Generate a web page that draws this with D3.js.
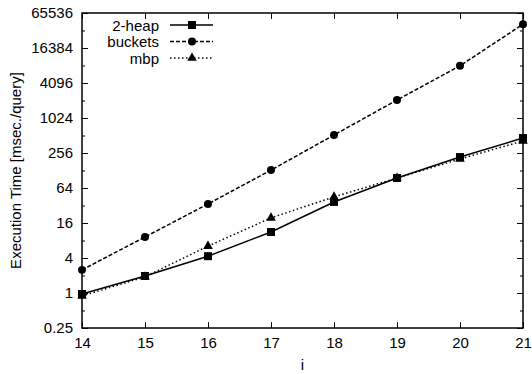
<!DOCTYPE html>
<html>
<head>
<meta charset="utf-8">
<script src="https://cdn.jsdelivr.net/npm/d3@7/dist/d3.min.js"></script>
<style>
  html, body { margin: 0; padding: 0; background: #fff; }
  svg { display: block; font-family: "Liberation Sans", Arial, sans-serif; }
</style>
</head>
<body>
<svg id="chart" width="532" height="374"></svg>
<script>
// Query execution time (msec/query) against problem size i
const sizes = [14, 15, 16, 17, 18, 19, 20, 21];
const twoHeap = [0.96, 1.96, 4.3, 11.2, 36.8, 95, 218, 463];
const buckets = [2.5, 9.2, 34, 130, 522, 2088, 8100, 42000];
const mbp = [0.89, 1.9, 6.4, 19.6, 45, 95, 202, 412];

const yMajorTicks = [0.25, 1, 4, 16, 64, 256, 1024, 4096, 16384, 65536];
const yMinorTicks = [0.5, 2, 8, 32, 128, 512, 2048, 8192, 32768];
const seriesNames = ["2-heap", "buckets", "mbp"];

(function draw() {
  const svg = d3.select("#chart");
  const plotLeft = 82, plotRight = 523, plotTop = 13, plotBottom = 328;

  const x = d3.scaleLinear().domain([14, 21]).range([plotLeft, plotRight]);
  const y = d3.scaleLog().base(4).domain([0.25, 65536]).range([plotBottom, plotTop]);

  const font = 15;

  function styleAxis(g) {
    g.select(".domain").remove();
    g.selectAll(".tick line").attr("stroke", "#000").attr("stroke-width", 1);
    g.selectAll(".tick text").attr("font-size", font).attr("fill", "#000")
      .attr("font-family", "Liberation Sans, Arial, sans-serif");
  }

  // y axis with labels, ticks pointing inward
  svg.append("g").attr("transform", `translate(${plotLeft},0)`)
    .call(d3.axisLeft(y).tickValues(yMajorTicks).tickSize(-6).tickPadding(9)
      .tickFormat(d => String(d)))
    .call(styleAxis);
  svg.append("g").attr("transform", `translate(${plotLeft},0)`)
    .call(d3.axisLeft(y).tickValues(yMinorTicks).tickSize(-3).tickFormat(""))
    .call(styleAxis);
  // mirrored right ticks
  svg.append("g").attr("transform", `translate(${plotRight},0)`)
    .call(d3.axisRight(y).tickValues(yMajorTicks).tickSize(-6).tickFormat(""))
    .call(styleAxis);
  svg.append("g").attr("transform", `translate(${plotRight},0)`)
    .call(d3.axisRight(y).tickValues(yMinorTicks).tickSize(-3).tickFormat(""))
    .call(styleAxis);

  // x axis
  svg.append("g").attr("transform", `translate(0,${plotBottom})`)
    .call(d3.axisBottom(x).tickValues(sizes).tickSize(-6).tickPadding(9)
      .tickFormat(d3.format("d")))
    .call(styleAxis);
  svg.append("g").attr("transform", `translate(0,${plotTop})`)
    .call(d3.axisTop(x).tickValues(sizes).tickSize(-6).tickFormat(""))
    .call(styleAxis);

  // frame
  svg.append("rect")
    .attr("x", plotLeft).attr("y", plotTop)
    .attr("width", plotRight - plotLeft).attr("height", plotBottom - plotTop)
    .attr("fill", "none").attr("stroke", "#000").attr("stroke-width", 1.5);

  // axis titles
  svg.append("text")
    .attr("transform", `translate(15,${(plotTop + plotBottom) / 2}) rotate(-90)`)
    .attr("text-anchor", "middle").attr("dominant-baseline", "central")
    .attr("font-size", font).text("Execution Time [msec./query]");
  svg.append("text")
    .attr("x", (plotLeft + plotRight) / 2).attr("y", 364)
    .attr("text-anchor", "middle").attr("dominant-baseline", "central")
    .attr("font-size", font).text("i");

  // series
  const dashes = ["none", "4,2", "1.5,2.5"];
  const markerKinds = [d3.symbolSquare, d3.symbolCircle, d3.symbolTriangle];
  const markerSizes = [64, 50, 40];
  const allValues = [twoHeap, buckets, mbp];

  const line = d3.line().x((d, i) => x(sizes[i])).y(d => y(d));

  allValues.forEach((vals, k) => {
    svg.append("path")
      .attr("d", line(vals))
      .attr("fill", "none").attr("stroke", "#000")
      .attr("stroke-width", 1.5)
      .attr("stroke-dasharray", dashes[k]);
    svg.append("g").selectAll("path").data(vals).join("path")
      .attr("transform", (d, i) => `translate(${x(sizes[i])},${y(d)})`)
      .attr("d", d3.symbol().type(markerKinds[k]).size(markerSizes[k]))
      .attr("fill", "#000");
  });

  // legend
  const legendRows = [25, 41.5, 58];
  seriesNames.forEach((name, k) => {
    const ly = legendRows[k];
    svg.append("text")
      .attr("x", 159).attr("y", ly)
      .attr("text-anchor", "end").attr("dominant-baseline", "central")
      .attr("font-size", font).text(name);
    svg.append("line")
      .attr("x1", 170).attr("x2", 213).attr("y1", ly).attr("y2", ly)
      .attr("stroke", "#000").attr("stroke-width", 1.5)
      .attr("stroke-dasharray", dashes[k]);
    svg.append("path")
      .attr("transform", `translate(192,${ly})`)
      .attr("d", d3.symbol().type(markerKinds[k]).size(markerSizes[k]))
      .attr("fill", "#000");
  });
})();
</script>
</body>
</html>
